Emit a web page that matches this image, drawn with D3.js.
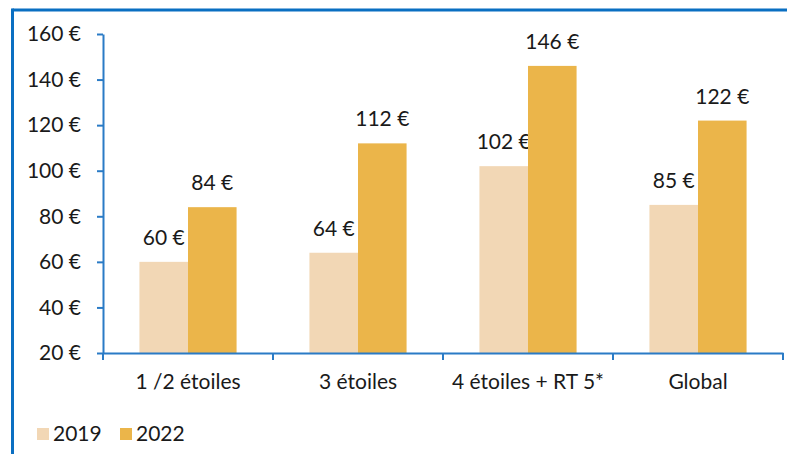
<!DOCTYPE html>
<html><head><meta charset="utf-8">
<script src="https://cdn.jsdelivr.net/npm/d3@7"></script>
<style>
html,body{margin:0;padding:0;background:#fff;}
svg{display:block;font-family:Lato,"Noto Sans",sans-serif;}
</style></head>
<body>
<svg id="c" width="787" height="454"></svg>
<script>
const categories = ["1 /2 étoiles", "3 étoiles", "4 étoiles + RT 5*", "Global"];
const seriesNames = ["2019", "2022"];
const values2019 = [60, 64, 102, 85];
const values2022 = [84, 112, 146, 122];
const yTicks = [20, 40, 60, 80, 100, 120, 140, 160];
const colors = ["#F2D7B5", "#EBB54A"];

(function () {
const svg = d3.select("#c");
const axisColor = "#2a7bc6";
const frameColor = "#0a6fc2";
const fs = 21;
const ff = "Lato,'Noto Sans',sans-serif";
const txt = "#1a1a1a";

// frame (top and left)
svg.append("line").attr("x1", 12.5).attr("x2", 787).attr("y1", 10).attr("y2", 10)
  .attr("stroke", frameColor).attr("stroke-width", 3);
svg.append("line").attr("x1", 12.5).attr("x2", 12.5).attr("y1", 8.5).attr("y2", 454)
  .attr("stroke", frameColor).attr("stroke-width", 3);

const mLeft = 103, mRight = 783, mTop = 34, mBottom = 353;
const y = d3.scaleLinear().domain([20, 160]).range([mBottom, mTop]);
const x = d3.scaleBand().domain(categories).range([mLeft, mRight]).padding(0);
const xs = d3.scaleBand().domain(seriesNames).range([0, x.bandwidth()]).paddingInner(0).paddingOuter(0.75);

const data = categories.map((c, i) => ({cat: c, vals: [values2019[i], values2022[i]]}));

// bars
const g = svg.append("g");
data.forEach(d => {
  d.vals.forEach((v, j) => {
    const bx = x(d.cat) + xs(seriesNames[j]);
    g.append("rect").attr("x", bx).attr("width", xs.bandwidth())
      .attr("y", y(v)).attr("height", y(20) - y(v)).attr("fill", colors[j]);
    g.append("text").attr("x", bx + xs.bandwidth() / 2).attr("y", y(v) - 17)
      .attr("text-anchor", "middle").attr("font-size", fs).attr("fill", txt)
      .text(v + " €");
  });
});

// y axis
const yAxis = svg.append("g").attr("transform", `translate(${mLeft},0)`)
  .call(d3.axisLeft(y).tickValues(yTicks).tickSize(6).tickSizeOuter(0).tickPadding(16)
    .tickFormat(d => d + " €"));
yAxis.selectAll("path,line").attr("stroke", axisColor).attr("stroke-width", 2);
yAxis.selectAll("text").attr("font-size", fs).attr("fill", txt).attr("font-family", ff);

// x axis
const xAxis = svg.append("g").attr("transform", `translate(0,${mBottom})`)
  .call(d3.axisBottom(x).tickSize(0).tickSizeOuter(0).tickPadding(21));
xAxis.select("path").attr("stroke", axisColor).attr("stroke-width", 2);
xAxis.selectAll("text").attr("font-size", fs).attr("fill", txt).attr("font-family", ff);
const bounds = categories.map(c => x(c)).concat([x(categories[categories.length - 1]) + x.bandwidth()]);
xAxis.selectAll("line.bnd").data(bounds).enter().append("line").attr("class", "bnd")
  .attr("x1", d => d).attr("x2", d => d).attr("y1", 0).attr("y2", 7)
  .attr("stroke", axisColor).attr("stroke-width", 2);

// legend
const lg = svg.append("g");
const legendX = [37, 120];
seriesNames.forEach((s, j) => {
  lg.append("rect").attr("x", legendX[j]).attr("y", 428).attr("width", 12).attr("height", 12).attr("fill", colors[j]);
  lg.append("text").attr("x", legendX[j] + 16).attr("y", 440.5).attr("font-size", fs).attr("fill", txt).text(s);
});
})();
</script>
</body></html>
